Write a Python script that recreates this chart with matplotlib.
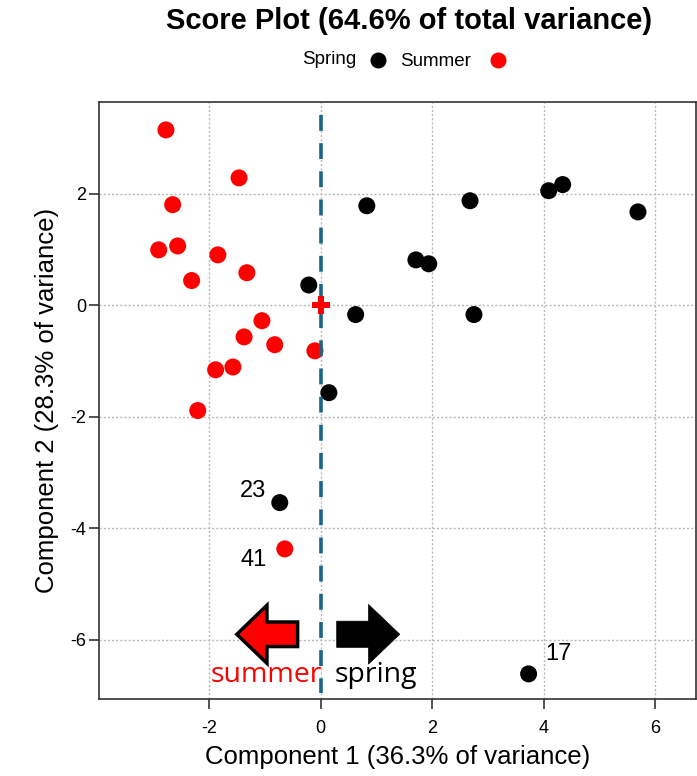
import matplotlib
matplotlib.use("Agg")
import matplotlib.pyplot as plt
from matplotlib.patches import FancyArrow
from matplotlib.lines import Line2D

plt.rcParams['font.family'] = ['Liberation Sans', 'DejaVu Sans']
plt.rcParams['axes.unicode_minus'] = False

# ---- data ----
spring_x = [-0.21, 0.83, 1.71, 1.94, 2.68, 4.09, 4.34, 5.69, 0.63, 2.75, 0.15, -0.73, 3.73]
spring_y = [0.36, 1.78, 0.81, 0.74, 1.87, 2.05, 2.16, 1.67, -0.17, -0.17, -1.57, -3.54, -6.61]
summer_x = [-2.77, -1.46, -2.65, -2.90, -2.56, -1.84, -1.32, -2.31, -1.05, -1.37, -0.82, -0.10, -1.88, -1.57, -2.20, -0.64]
summer_y = [3.14, 2.28, 1.80, 0.99, 1.06, 0.90, 0.58, 0.44, -0.28, -0.57, -0.71, -0.82, -1.16, -1.11, -1.89, -4.37]
point_labels = ["23", "41", "17"]
label_x = [-1.21, -1.19, 4.27]
label_y = [-3.34, -4.56, -6.26]
x_ticks = [-2, 0, 2, 4, 6]
y_ticks = [2, 0, -2, -4, -6]

title = "Score Plot (64.6% of total variance)"
xlabel = "Component 1 (36.3% of variance)"
ylabel = "Component 2 (28.3% of variance)"

fig = plt.figure(figsize=(6.97, 7.76), dpi=100)
ax = fig.add_axes([99/697, 1-699/776, (696-99)/697, (699-102)/776])

ax.set_xlim(-3.97, 6.73)
ax.set_ylim(-7.06, 3.64)

ax.grid(True, linestyle=(0, (1.5, 1.5)), color='#b8b8b8', linewidth=1.0, zorder=0)
ax.set_xticks(x_ticks)
ax.set_yticks(y_ticks)
ax.tick_params(axis='x', length=7, width=1.2, pad=8, labelsize=13, color='#333333')
ax.tick_params(axis='y', length=7, width=1.2, pad=2, labelsize=13, color='#333333')
for s in ax.spines.values():
    s.set_linewidth(1.2)
    s.set_color('#333333')

ax.scatter(summer_x, summer_y, s=150, color='#ff0000', edgecolors='none', zorder=3)
ax.scatter(spring_x, spring_y, s=150, color='black', edgecolors='none', zorder=3)

# dashed separator
ax.plot([0, 0], [3.41, -6.95], color='#1a6688', linewidth=2.6,
        dashes=(4.4, 3.4), zorder=4, solid_capstyle='butt')
# centre cross
ax.plot([0], [0], marker='P', markersize=13, color='#ff0000', markeredgewidth=0, zorder=5)

for t, x, y in zip(point_labels, label_x, label_y):
    ax.text(x, y, t, fontsize=17, ha='center', va='center', zorder=6)

# arrows
ax.add_patch(FancyArrow(-0.41, -5.90, -1.09, 0, width=0.44, head_width=1.04,
                        head_length=0.54, length_includes_head=True,
                        facecolor='#ff0000', edgecolor='black', linewidth=2.5,
                        zorder=6, clip_on=False))
ax.add_patch(FancyArrow(0.29, -5.90, 1.13, 0, width=0.47, head_width=1.07,
                        head_length=0.56, length_includes_head=True,
                        facecolor='black', edgecolor='black', linewidth=0.5,
                        zorder=6, clip_on=False))
ax.text(-0.98, -6.63, "summer", color='#ff0000', fontsize=20.5, family='Open Sans',
        ha='center', va='center', zorder=7)
ax.text(0.99, -6.63, "spring", color='black', fontsize=20.5, family='Open Sans',
        ha='center', va='center', zorder=7)

ax.set_xlabel(xlabel, fontsize=18.5, labelpad=6)
ax.set_ylabel(ylabel, fontsize=18.5, labelpad=8)

fig.text(409/697, 1-21/776, title, fontsize=21, fontweight='bold', ha='center', va='center')

# legend (text then marker)
fig.text(302/697, 1-60/776, "Spring", fontsize=13.5, ha='left', va='center')
fig.add_artist(Line2D([378/697], [1-60/776], marker='o', markersize=11.5, color='black',
                      markeredgewidth=0, linestyle='none', transform=fig.transFigure))
fig.text(400/697, 1-61/776, "Summer", fontsize=13.5, ha='left', va='center')
fig.add_artist(Line2D([498/697], [1-60/776], marker='o', markersize=11.5, color='#ff0000',
                      markeredgewidth=0, linestyle='none', transform=fig.transFigure))

fig.savefig("out.png", dpi=100)
